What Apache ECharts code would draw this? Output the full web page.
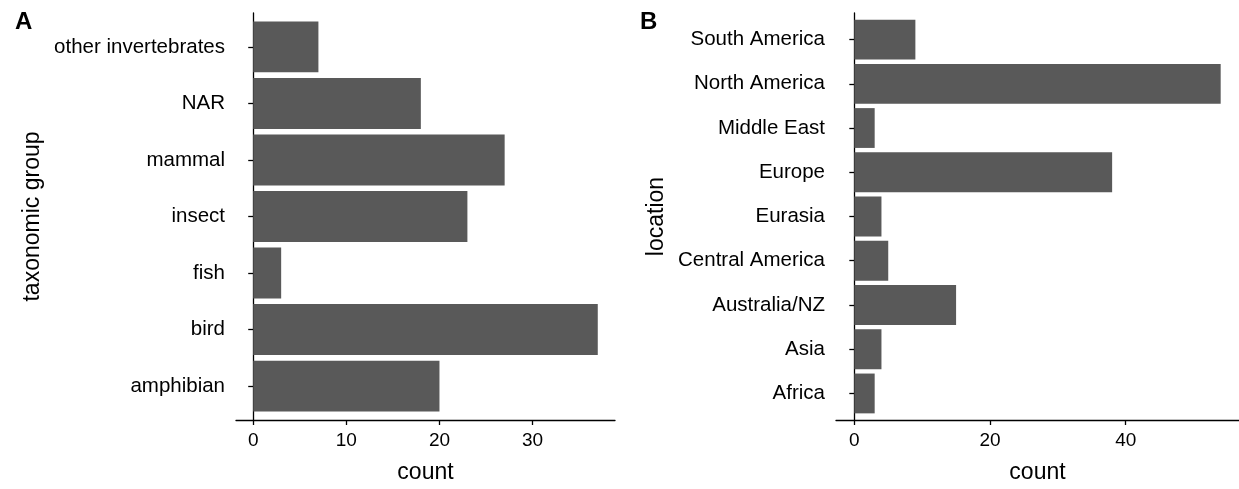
<!DOCTYPE html>
<html>
<head>
<meta charset="utf-8">
<script src="https://cdn.jsdelivr.net/npm/echarts@6/dist/echarts.min.js"></script>
<style>
  html, body { margin: 0; padding: 0; background: #fff; }
  #main { width: 1239px; height: 489px; }
</style>
</head>
<body>
<div id="main"></div>
<script>
// panel A: taxonomic group (bottom to top)
const taxaGroups = ['amphibian', 'bird', 'fish', 'insect', 'mammal', 'NAR', 'other invertebrates'];
const taxaCounts = [20, 37, 3, 23, 27, 18, 7];
const taxaTicks = [0, 10, 20, 30];

// panel B: location (bottom to top)
const locations = ['Africa', 'Asia', 'Australia/NZ', 'Central America', 'Eurasia', 'Europe', 'Middle East', 'North America', 'South America'];
const locationCounts = [3, 4, 15, 5, 4, 38, 3, 54, 9];
const locationTicks = [0, 20, 40];

const barColor = '#595959';
const font = 'Liberation Sans';

const chart = echarts.init(document.getElementById('main'));

// ggplot style expansion: 5% on continuous, 0.6 on discrete
const valueRange = (vals) => {
  const mx = Math.max(...vals);
  return { min: -0.05 * mx, max: mx * 1.05 };
};

const barRender = (params, api) => {
  const start = api.coord([0, api.value(1)]);
  const end = api.coord([api.value(0), api.value(1)]);
  const h = api.size([0, 0.9])[1];
  return {
    type: 'rect',
    shape: { x: start[0], y: start[1] - h / 2, width: end[0] - start[0], height: h },
    style: { fill: barColor }
  };
};

const axisLine = { show: true, lineStyle: { color: '#000', width: 1.3 } };
const axisTick = (vals) => ({ show: true, length: 5, lineStyle: { color: '#000', width: 1.3 }, customValues: vals });

const makeX = (grid, ticks, vals) => {
  const r = valueRange(vals);
  return {
    type: 'value',
    gridIndex: grid,
    min: r.min,
    max: r.max,
    name: 'count',
    nameLocation: 'middle',
    nameGap: 41,
    nameTextStyle: { fontFamily: font, fontSize: 23, color: '#000' },
    axisLine: axisLine,
    axisTick: axisTick(ticks),
    axisLabel: { customValues: ticks, fontFamily: font, fontSize: 19, color: '#000', margin: 11 },
    splitLine: { show: false }
  };
};

const makeY = (grid, cats, name, gap) => {
  const idx = cats.map((c, i) => i + 1);
  return {
    type: 'value',
    gridIndex: grid,
    min: 0.4,
    max: cats.length + 0.6,
    name: name,
    nameLocation: 'middle',
    nameGap: gap,
    nameTextStyle: { fontFamily: font, fontSize: 23, color: '#000' },
    axisLine: axisLine,
    axisTick: axisTick(idx),
    axisLabel: {
      customValues: idx,
      fontFamily: font, fontSize: 20.5, color: '#000', margin: 11,
      formatter: (v) => cats[Math.round(v) - 1]
    },
    splitLine: { show: false }
  };
};

chart.setOption({
  animation: false,
  backgroundColor: '#fff',
  title: [
    { text: 'A', left: 10, top: 5, textStyle: { fontFamily: font, fontSize: 24, fontWeight: 'bold', color: '#000' } },
    { text: 'B', left: 635, top: 5, textStyle: { fontFamily: font, fontSize: 24, fontWeight: 'bold', color: '#000' } }
  ],
  grid: [
    { left: 236, top: 13, width: 379, height: 408 },
    { left: 836, top: 13, width: 403, height: 408 }
  ],
  xAxis: [makeX(0, taxaTicks, taxaCounts), makeX(1, locationTicks, locationCounts)],
  yAxis: [makeY(0, taxaGroups, 'taxonomic group', 192), makeY(1, locations, 'location', 168)],
  series: [
    {
      type: 'custom',
      xAxisIndex: 0, yAxisIndex: 0,
      renderItem: barRender,
      data: taxaCounts.map((v, i) => [v, i + 1])
    },
    {
      type: 'custom',
      xAxisIndex: 1, yAxisIndex: 1,
      renderItem: barRender,
      data: locationCounts.map((v, i) => [v, i + 1])
    }
  ]
});
</script>
</body>
</html>
